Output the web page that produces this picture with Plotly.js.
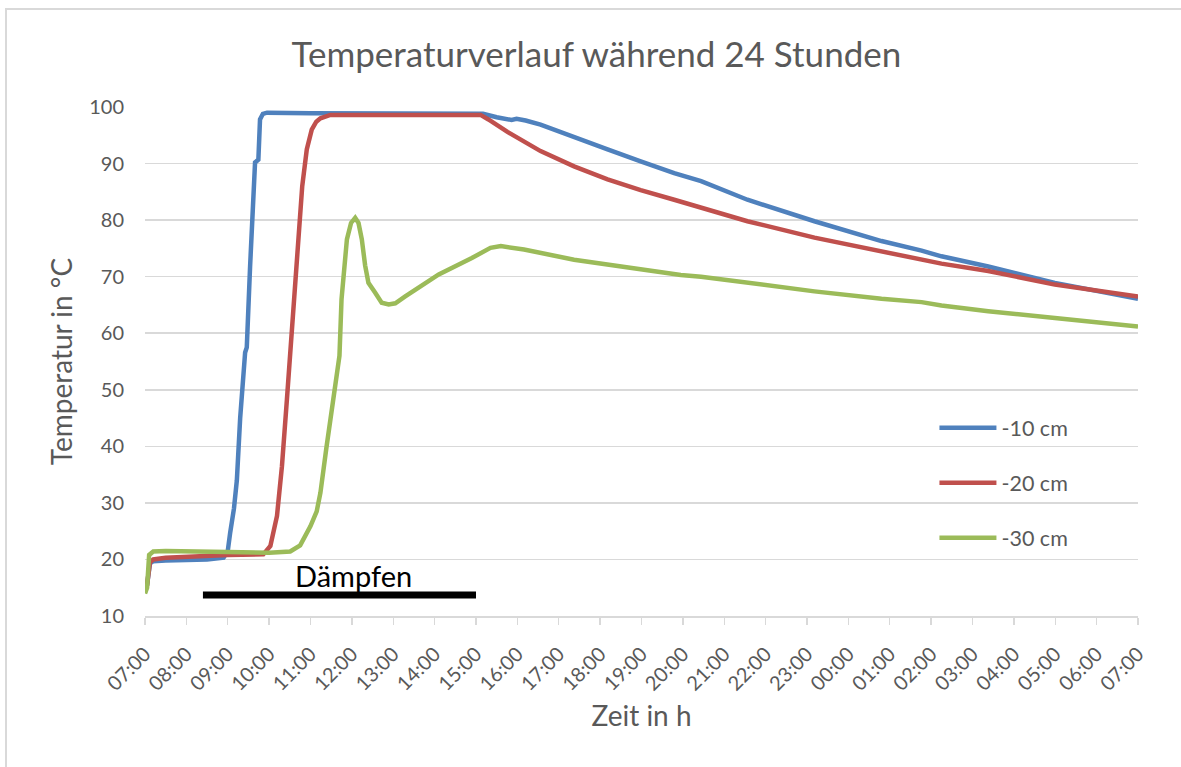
<!DOCTYPE html>
<html>
<head>
<meta charset="utf-8">
<script src="https://cdn.plot.ly/plotly-3.0.1.min.js"></script>
<style>
  html, body { margin: 0; padding: 0; background: #ffffff; }
  #wrap { position: relative; width: 1181px; height: 767px; overflow: hidden; }
  #chart { width: 1181px; height: 767px; }
  #frame { position: absolute; left: 5px; top: 8px; width: 1300px; height: 900px;
           border-left: 2px solid #d9d9d9; border-top: 2px solid #d9d9d9; pointer-events: none; }
</style>
</head>
<body>
<div id="wrap">
  <div id="chart"></div>
  <div id="frame"></div>
</div>
<script>
// Hours since 07:00 (start of the 24 h record)
const tickLabels = ["07:00","08:00","09:00","10:00","11:00","12:00","13:00","14:00","15:00","16:00",
  "17:00","18:00","19:00","20:00","21:00","22:00","23:00","00:00","01:00","02:00","03:00","04:00",
  "05:00","06:00","07:00"];
const tickHours = tickLabels.map((_, i) => i);

const seriesNames = ["-10 cm", "-20 cm", "-30 cm"];

const hours10 = [0, 0.05, 0.12, 0.2, 0.5, 1.0, 1.5, 1.9, 2.0, 2.06, 2.15, 2.22, 2.3, 2.42, 2.46, 2.54,
  2.66, 2.74, 2.78, 2.85, 2.95, 4, 6, 8.17, 8.5, 8.86, 8.98, 9.2, 9.56, 10.37, 11.18, 11.98, 12.79,
  13.44, 14.56, 16.18, 17.8, 18.77, 19.25, 20.38, 21.99, 24];
const temp10 = [14.2, 15.5, 19.3, 19.7, 19.8, 19.9, 20.0, 20.3, 21.5, 24.8, 29, 34, 45, 56.6, 57.5, 71.8,
  90.2, 90.7, 97.8, 98.8, 99.0, 98.9, 98.9, 98.8, 98.2, 97.7, 97.9, 97.6, 96.9, 94.8, 92.5, 90.4, 88.3,
  86.9, 83.6, 79.8, 76.3, 74.6, 73.6, 71.8, 68.9, 66.1];

const hours20 = [0, 0.05, 0.12, 0.2, 0.5, 1.0, 2.0, 2.86, 3.03, 3.19, 3.31, 3.43, 3.55, 3.67, 3.75,
  3.8, 3.91, 4.03, 4.14, 4.24, 4.48, 6, 8.11, 8.3, 8.76, 9.56, 10.37, 11.18, 11.98, 12.79, 13.44, 14.56,
  16.18, 17.8, 18.77, 19.25, 20.38, 21.99, 24];
const temp20 = [14.5, 15.5, 19.5, 20.0, 20.3, 20.5, 20.8, 20.9, 22.4, 27.7, 36.5, 48.3, 60, 71.8, 80.5,
  86, 92.5, 96, 97.4, 98, 98.6, 98.6, 98.6, 97.8, 95.6, 92.2, 89.5, 87.2, 85.3, 83.6, 82.2, 79.8,
  76.9, 74.5, 73.0, 72.3, 71.0, 68.6, 66.5];

const hours30 = [0, 0.05, 0.1, 0.2, 0.5, 1.0, 2.0, 3.0, 3.51, 3.75, 4.0, 4.15, 4.24, 4.38, 4.54, 4.62,
  4.7, 4.75, 4.82, 4.88, 4.98, 5.08, 5.16, 5.24, 5.32, 5.4, 5.56, 5.72, 5.89, 6.05, 6.29, 7.1, 7.9,
  8.35, 8.6, 9.16, 10.37, 11.18, 11.98, 12.95, 13.44, 14.56, 16.18, 17.8, 18.77, 19.25, 20.38, 21.99, 24];
const temp30 = [14.0, 15, 20.8, 21.4, 21.5, 21.4, 21.3, 21.2, 21.4, 22.5, 25.9, 28.5, 31.8, 39.5, 48.3, 53,
  56, 66, 73, 76.6, 79.5, 80.4, 79.5, 76.6, 72, 68.9, 67.2, 65.4, 65.1, 65.3, 66.5, 70.4, 73.3,
  75.1, 75.4, 74.8, 73.0, 72.1, 71.2, 70.3, 70.0, 68.9, 67.4, 66.1, 65.5, 64.9, 63.9, 62.7, 61.2];

// Steaming period ("Dämpfen") in hours since 07:00
const dampfenPeriod = [1.4, 8.0];
const dampfenLevel = 13.7;
const dampfenLabel = "Dämpfen";

const colors = ["#4f81bd", "#c0504d", "#9bbb59"];
const xs = [hours10, hours20, hours30];
const ys = [temp10, temp20, temp30];

const FONT = "Lato, 'Open Sans', sans-serif";
const GREY = "#595959";

const traces = seriesNames.map((name, i) => ({
  type: "scatter",
  mode: "lines",
  name: name,
  x: xs[i],
  y: ys[i],
  legendgroup: "g" + i,
  line: { color: colors[i], width: 4.5 },
  hoverinfo: "x+y+name"
}));

const layout = {
  width: 1181,
  height: 767,
  paper_bgcolor: "#ffffff",
  plot_bgcolor: "#ffffff",
  margin: { l: 145, r: 43, t: 107, b: 151 },
  showlegend: true,
  font: { family: FONT, color: GREY },
  title: {
    text: "Temperaturverlauf während 24 Stunden",
    font: { family: FONT, size: 35, color: GREY },
    x: 0.505, xanchor: "center", xref: "container",
    y: 0.928, yanchor: "middle", yref: "container"
  },
  xaxis: {
    range: [0, 24],
    tickmode: "array",
    tickvals: tickHours,
    ticktext: tickLabels,
    tickangle: -45,
    tickfont: { family: FONT, size: 20, color: GREY },
    ticklabelstandoff: 10,
    ticks: "outside",
    ticklen: 7,
    tickcolor: "#d9d9d9",
    tickwidth: 1.3,
    showline: true,
    linecolor: "#d9d9d9",
    linewidth: 1.5,
    showgrid: false,
    zeroline: false,
    automargin: false,
    title: { text: "Zeit in h", font: { family: FONT, size: 28, color: GREY }, standoff: 12 }
  },
  yaxis: {
    range: [10, 100],
    tickmode: "linear",
    tick0: 10,
    dtick: 10,
    tickfont: { family: FONT, size: 20, color: GREY },
    ticklabelstandoff: 20,
    showgrid: true,
    gridcolor: "#d9d9d9",
    gridwidth: 1.5,
    showline: false,
    zeroline: false,
    automargin: false,
    title: { text: "Temperatur in °C", font: { family: FONT, size: 28, color: GREY }, standoff: 8 }
  },
  legend: {
    x: 0.795, xanchor: "left",
    y: 0.41, yanchor: "top",
    bgcolor: "rgba(0,0,0,0)",
    font: { family: FONT, size: 21.5, color: GREY },
    traceorder: "grouped",
    tracegroupgap: 24,
    itemwidth: 57
  },
  shapes: [{
    type: "line", xref: "x", yref: "y",
    x0: dampfenPeriod[0], x1: dampfenPeriod[1], y0: dampfenLevel, y1: dampfenLevel,
    line: { color: "#000000", width: 7 }
  }],
  annotations: [{
    xref: "x", yref: "y",
    x: (dampfenPeriod[0] + dampfenPeriod[1]) / 2 + 0.35,
    y: dampfenLevel,
    yshift: 20,
    text: dampfenLabel,
    showarrow: false,
    font: { family: FONT, size: 29, color: "#000000" }
  }]
};

Plotly.newPlot("chart", traces, layout, { displayModeBar: false, staticPlot: true });
</script>
</body>
</html>
